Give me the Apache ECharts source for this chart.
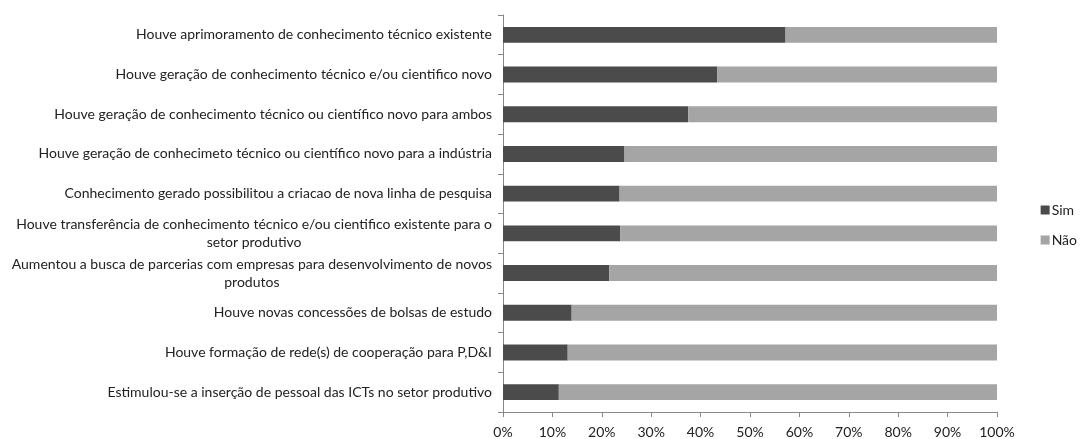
<!DOCTYPE html>
<html>
<head>
<meta charset="utf-8">
<script src="https://cdn.jsdelivr.net/npm/echarts@6/dist/echarts.min.js"></script>
<style>html,body{margin:0;padding:0;background:#fff}#c{width:1082px;height:439px}</style>
</head>
<body>
<div id="c"></div>
<script>
const categories = [
  "Houve aprimoramento de conhecimento técnico existente",
  "Houve geração de conhecimento técnico e/ou cientifico novo",
  "Houve geração de conhecimento técnico ou científico novo para ambos",
  "Houve geração de conhecimeto técnico ou científico novo para a indústria",
  "Conhecimento gerado possibilitou a criacao de nova linha de pesquisa",
  "Houve transferência de conhecimento técnico e/ou cientifico existente para o\nsetor produtivo",
  "Aumentou a busca de parcerias com empresas para desenvolvimento de novos\nprodutos",
  "Houve novas concessões de bolsas de estudo",
  "Houve formação de rede(s) de cooperação para P,D&I",
  "Estimulou-se a inserção de pessoal das ICTs no setor produtivo"
];
const simValues = [57.2, 43.4, 37.5, 24.6, 23.6, 23.7, 21.5, 13.9, 13.1, 11.3];
const naoValues = [42.8, 56.6, 62.5, 75.4, 76.4, 76.3, 78.5, 86.1, 86.9, 88.7];
const xTicks = [0, 10, 20, 30, 40, 50, 60, 70, 80, 90, 100];

const FONT = 'Lato';
const FS = 14;
const chart = echarts.init(document.getElementById('c'), null, {renderer: 'canvas'});
chart.setOption({
  animation: false,
  textStyle: {fontFamily: FONT},
  grid: {left: 503, right: 85, top: 15, bottom: 27, containLabel: false},
  legend: {
    orient: 'vertical', right: 0, top: 198, width: 40,
    itemWidth: 9, itemHeight: 9, itemGap: 16,
    icon: 'rect',
    textStyle: {fontFamily: FONT, fontSize: FS, color: '#222', padding: [0,0,0,-3]},
    data: ['Sim', 'Não']
  },
  xAxis: {
    type: 'value', min: 0, max: 100, interval: 10,
    splitLine: {show: false},
    axisLine: {show: true, lineStyle: {color: '#888'}},
    axisTick: {show: true, length: 5, lineStyle: {color: '#888'}},
    axisLabel: {fontFamily: FONT, fontSize: FS, color: '#222', margin: 13,
      formatter: v => xTicks.includes(v) ? v + '%' : ''}
  },
  yAxis: {
    type: 'category', inverse: true, data: categories,
    axisLine: {show: true, lineStyle: {color: '#888'}},
    axisTick: {show: true, length: 5, lineStyle: {color: '#888'}},
    axisLabel: {
      fontFamily: FONT, fontSize: FS, color: '#222', margin: 11, align: 'right',
      lineHeight: 18,
      formatter: v => v.split('\n').map(l => '{c|' + l + '}').join('\n'),
      rich: {c: {align: 'center', fontFamily: FONT, fontSize: FS, color: '#222', lineHeight: 18}}
    }
  },
  series: [
    {name: 'Sim', type: 'bar', stack: 't', data: simValues, barCategoryGap: '60%',
     itemStyle: {color: '#4b4b4b'}},
    {name: 'Não', type: 'bar', stack: 't', data: naoValues, barCategoryGap: '60%',
     itemStyle: {color: '#a5a5a5'}}
  ]
});
</script>
</body>
</html>
